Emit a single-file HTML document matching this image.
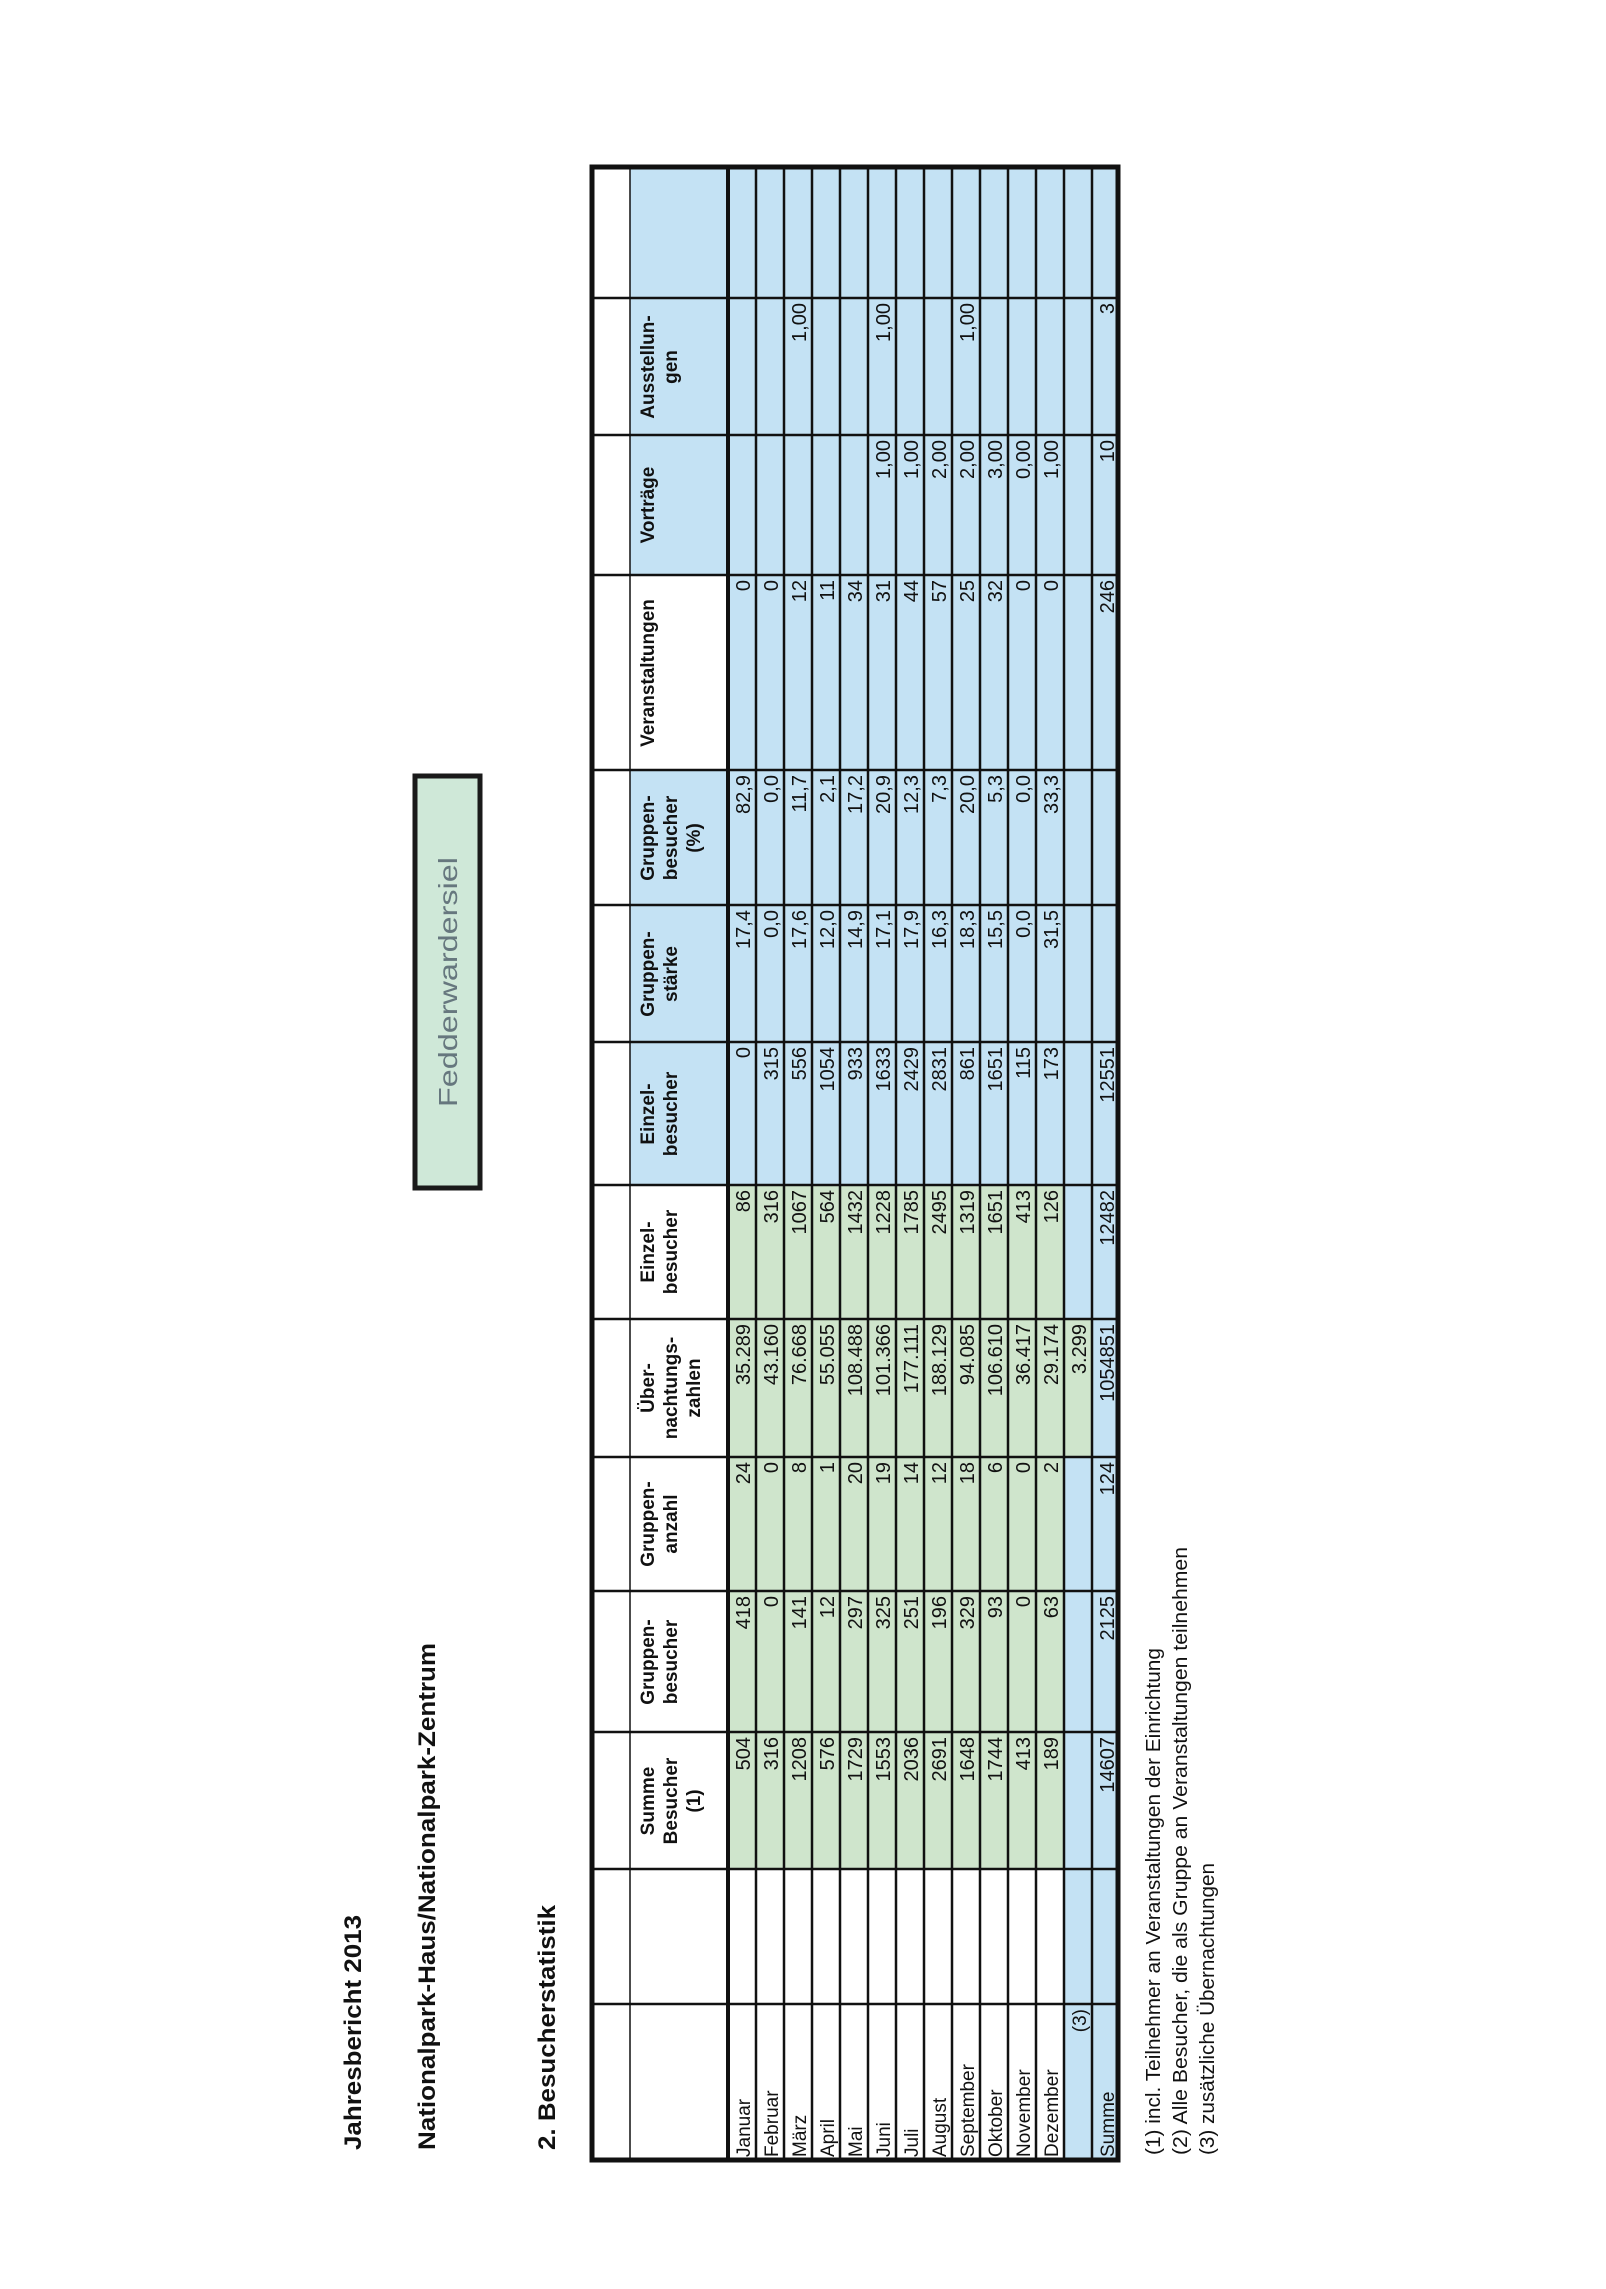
<!DOCTYPE html>
<html><head><meta charset="utf-8"><style>
html,body{margin:0;padding:0;background:#fff;}
svg{display:block;}
text{font-family:"Liberation Sans",Arial,sans-serif;fill:#111;}
.h{font-weight:bold;font-size:19px;text-anchor:middle;}
.d{font-size:20px;text-anchor:end;}
.m{font-size:19px;}
</style></head><body>
<svg width="1606" height="2289" viewBox="0 0 1606 2289" xmlns="http://www.w3.org/2000/svg">
<rect width="1606" height="2289" fill="#fff"/>
<g transform="translate(0,2289) rotate(-90)">
<text x="139" y="361" font-size="24" font-weight="bold" textLength="235" lengthAdjust="spacingAndGlyphs">Jahresbericht 2013</text>
<text x="139" y="435" font-size="24" font-weight="bold" textLength="507" lengthAdjust="spacingAndGlyphs">Nationalpark-Haus/Nationalpark-Zentrum</text>
<text x="139" y="555" font-size="24" font-weight="bold" textLength="245" lengthAdjust="spacingAndGlyphs">2. Besucherstatistik</text>
<rect x="1101" y="415" width="412" height="65" fill="#cfe8d8" stroke="#1a1a1a" stroke-width="5"/>
<text x="1307" y="457" font-size="26" text-anchor="middle" textLength="250" lengthAdjust="spacingAndGlyphs" style="fill:#66777e">Fedderwardersiel</text>
<text x="134" y="1160" font-size="20" textLength="507" lengthAdjust="spacingAndGlyphs">(1) incl. Teilnehmer an Veranstaltungen der Einrichtung</text>
<text x="134" y="1187" font-size="20" textLength="608" lengthAdjust="spacingAndGlyphs">(2) Alle Besucher, die als Gruppe an Veranstaltungen teilnehmen</text>
<text x="134" y="1214" font-size="20" textLength="292" lengthAdjust="spacingAndGlyphs">(3) zusätzliche Übernachtungen</text>

<rect x="1104" y="728" width="1018" height="392" fill="#c4e2f4"/>
<rect x="1104" y="630" width="415" height="98" fill="#c4e2f4"/>
<rect x="1714" y="630" width="408" height="98" fill="#c4e2f4"/>
<rect x="420" y="728" width="684" height="336" fill="#cfe5cc"/>
<rect x="129" y="1064" width="975" height="56" fill="#c4e2f4"/>
<rect x="832" y="1064" width="138" height="28" fill="#cfe5cc"/>

<g stroke="#111" stroke-width="2.5">
<line x1="285" y1="592" x2="285" y2="1120"/>
<line x1="420" y1="592" x2="420" y2="1120"/>
<line x1="557" y1="592" x2="557" y2="1120"/>
<line x1="698" y1="592" x2="698" y2="1120"/>
<line x1="832" y1="592" x2="832" y2="1120"/>
<line x1="970" y1="592" x2="970" y2="1120"/>
<line x1="1104" y1="592" x2="1104" y2="1120"/>
<line x1="1247" y1="592" x2="1247" y2="1120"/>
<line x1="1384" y1="592" x2="1384" y2="1120"/>
<line x1="1519" y1="592" x2="1519" y2="1120"/>
<line x1="1714" y1="592" x2="1714" y2="1120"/>
<line x1="1854" y1="592" x2="1854" y2="1120"/>
<line x1="1991" y1="592" x2="1991" y2="1120"/>
</g>
<g stroke="#111" stroke-width="2.5">
<line x1="129" y1="630" x2="2122" y2="630" stroke-width="1.5"/>
<line x1="129" y1="728" x2="2122" y2="728" stroke-width="4"/>
<line x1="129" y1="756" x2="2122" y2="756"/>
<line x1="129" y1="784" x2="2122" y2="784"/>
<line x1="129" y1="812" x2="2122" y2="812"/>
<line x1="129" y1="840" x2="2122" y2="840"/>
<line x1="129" y1="868" x2="2122" y2="868"/>
<line x1="129" y1="896" x2="2122" y2="896"/>
<line x1="129" y1="924" x2="2122" y2="924"/>
<line x1="129" y1="952" x2="2122" y2="952"/>
<line x1="129" y1="980" x2="2122" y2="980"/>
<line x1="129" y1="1008" x2="2122" y2="1008"/>
<line x1="129" y1="1036" x2="2122" y2="1036"/>
<line x1="129" y1="1064" x2="2122" y2="1064"/>
<line x1="129" y1="1092" x2="2122" y2="1092"/>
</g>
<rect x="129" y="592" width="1993" height="526" fill="none" stroke="#111" stroke-width="5"/>

<text class="h" x="488" y="654">Summe</text><text class="h" x="488" y="677">Besucher</text><text class="h" x="488" y="700">(1)</text>
<text class="h" x="627" y="654">Gruppen-</text><text class="h" x="627" y="677">besucher</text>
<text class="h" x="765" y="654">Gruppen-</text><text class="h" x="765" y="677">anzahl</text>
<text class="h" x="901" y="654">Über-</text><text class="h" x="901" y="677">nachtungs-</text><text class="h" x="901" y="700">zahlen</text>
<text class="h" x="1037" y="654">Einzel-</text><text class="h" x="1037" y="677">besucher</text>
<text class="h" x="1175" y="654">Einzel-</text><text class="h" x="1175" y="677">besucher</text>
<text class="h" x="1315" y="654">Gruppen-</text><text class="h" x="1315" y="677">stärke</text>
<text class="h" x="1451" y="654">Gruppen-</text><text class="h" x="1451" y="677">besucher</text><text class="h" x="1451" y="700">(%)</text>
<text class="h" x="1616" y="654">Veranstaltungen</text>
<text class="h" x="1784" y="654">Vorträge</text>
<text class="h" x="1922" y="654">Ausstellun-</text><text class="h" x="1922" y="677">gen</text>

<g class="m">
<text x="132" y="750">Januar</text><text x="132" y="778">Februar</text><text x="132" y="806">März</text><text x="132" y="834">April</text><text x="132" y="862">Mai</text><text x="132" y="890">Juni</text><text x="132" y="918">Juli</text><text x="132" y="946">August</text><text x="132" y="974">September</text><text x="132" y="1002">Oktober</text><text x="132" y="1030">November</text><text x="132" y="1058">Dezember</text><text x="280" y="1086" text-anchor="end">(3)</text><text x="132" y="1114">Summe</text>
</g>
<g class="d">
<text x="552" y="750">504</text><text x="552" y="778">316</text><text x="552" y="806">1208</text><text x="552" y="834">576</text><text x="552" y="862">1729</text><text x="552" y="890">1553</text><text x="552" y="918">2036</text><text x="552" y="946">2691</text><text x="552" y="974">1648</text><text x="552" y="1002">1744</text><text x="552" y="1030">413</text><text x="552" y="1058">189</text><text x="552" y="1114">14607</text>
<text x="693" y="750">418</text><text x="693" y="778">0</text><text x="693" y="806">141</text><text x="693" y="834">12</text><text x="693" y="862">297</text><text x="693" y="890">325</text><text x="693" y="918">251</text><text x="693" y="946">196</text><text x="693" y="974">329</text><text x="693" y="1002">93</text><text x="693" y="1030">0</text><text x="693" y="1058">63</text><text x="693" y="1114">2125</text>
<text x="827" y="750">24</text><text x="827" y="778">0</text><text x="827" y="806">8</text><text x="827" y="834">1</text><text x="827" y="862">20</text><text x="827" y="890">19</text><text x="827" y="918">14</text><text x="827" y="946">12</text><text x="827" y="974">18</text><text x="827" y="1002">6</text><text x="827" y="1030">0</text><text x="827" y="1058">2</text><text x="827" y="1114">124</text>
<text x="965" y="750">35.289</text><text x="965" y="778">43.160</text><text x="965" y="806">76.668</text><text x="965" y="834">55.055</text><text x="965" y="862">108.488</text><text x="965" y="890">101.366</text><text x="965" y="918">177.111</text><text x="965" y="946">188.129</text><text x="965" y="974">94.085</text><text x="965" y="1002">106.610</text><text x="965" y="1030">36.417</text><text x="965" y="1058">29.174</text><text x="965" y="1086">3.299</text><text x="965" y="1114">1054851</text>
<text x="1099" y="750">86</text><text x="1099" y="778">316</text><text x="1099" y="806">1067</text><text x="1099" y="834">564</text><text x="1099" y="862">1432</text><text x="1099" y="890">1228</text><text x="1099" y="918">1785</text><text x="1099" y="946">2495</text><text x="1099" y="974">1319</text><text x="1099" y="1002">1651</text><text x="1099" y="1030">413</text><text x="1099" y="1058">126</text><text x="1099" y="1114">12482</text>
<text x="1242" y="750">0</text><text x="1242" y="778">315</text><text x="1242" y="806">556</text><text x="1242" y="834">1054</text><text x="1242" y="862">933</text><text x="1242" y="890">1633</text><text x="1242" y="918">2429</text><text x="1242" y="946">2831</text><text x="1242" y="974">861</text><text x="1242" y="1002">1651</text><text x="1242" y="1030">115</text><text x="1242" y="1058">173</text><text x="1242" y="1114">12551</text>
<text x="1379" y="750">17,4</text><text x="1379" y="778">0,0</text><text x="1379" y="806">17,6</text><text x="1379" y="834">12,0</text><text x="1379" y="862">14,9</text><text x="1379" y="890">17,1</text><text x="1379" y="918">17,9</text><text x="1379" y="946">16,3</text><text x="1379" y="974">18,3</text><text x="1379" y="1002">15,5</text><text x="1379" y="1030">0,0</text><text x="1379" y="1058">31,5</text>
<text x="1514" y="750">82,9</text><text x="1514" y="778">0,0</text><text x="1514" y="806">11,7</text><text x="1514" y="834">2,1</text><text x="1514" y="862">17,2</text><text x="1514" y="890">20,9</text><text x="1514" y="918">12,3</text><text x="1514" y="946">7,3</text><text x="1514" y="974">20,0</text><text x="1514" y="1002">5,3</text><text x="1514" y="1030">0,0</text><text x="1514" y="1058">33,3</text>
<text x="1709" y="750">0</text><text x="1709" y="778">0</text><text x="1709" y="806">12</text><text x="1709" y="834">11</text><text x="1709" y="862">34</text><text x="1709" y="890">31</text><text x="1709" y="918">44</text><text x="1709" y="946">57</text><text x="1709" y="974">25</text><text x="1709" y="1002">32</text><text x="1709" y="1030">0</text><text x="1709" y="1058">0</text><text x="1709" y="1114">246</text>
<text x="1849" y="890">1,00</text><text x="1849" y="918">1,00</text><text x="1849" y="946">2,00</text><text x="1849" y="974">2,00</text><text x="1849" y="1002">3,00</text><text x="1849" y="1030">0,00</text><text x="1849" y="1058">1,00</text><text x="1849" y="1114">10</text>
<text x="1986" y="806">1,00</text><text x="1986" y="890">1,00</text><text x="1986" y="974">1,00</text><text x="1986" y="1114">3</text>
</g>
</g>
</svg>
</body></html>
